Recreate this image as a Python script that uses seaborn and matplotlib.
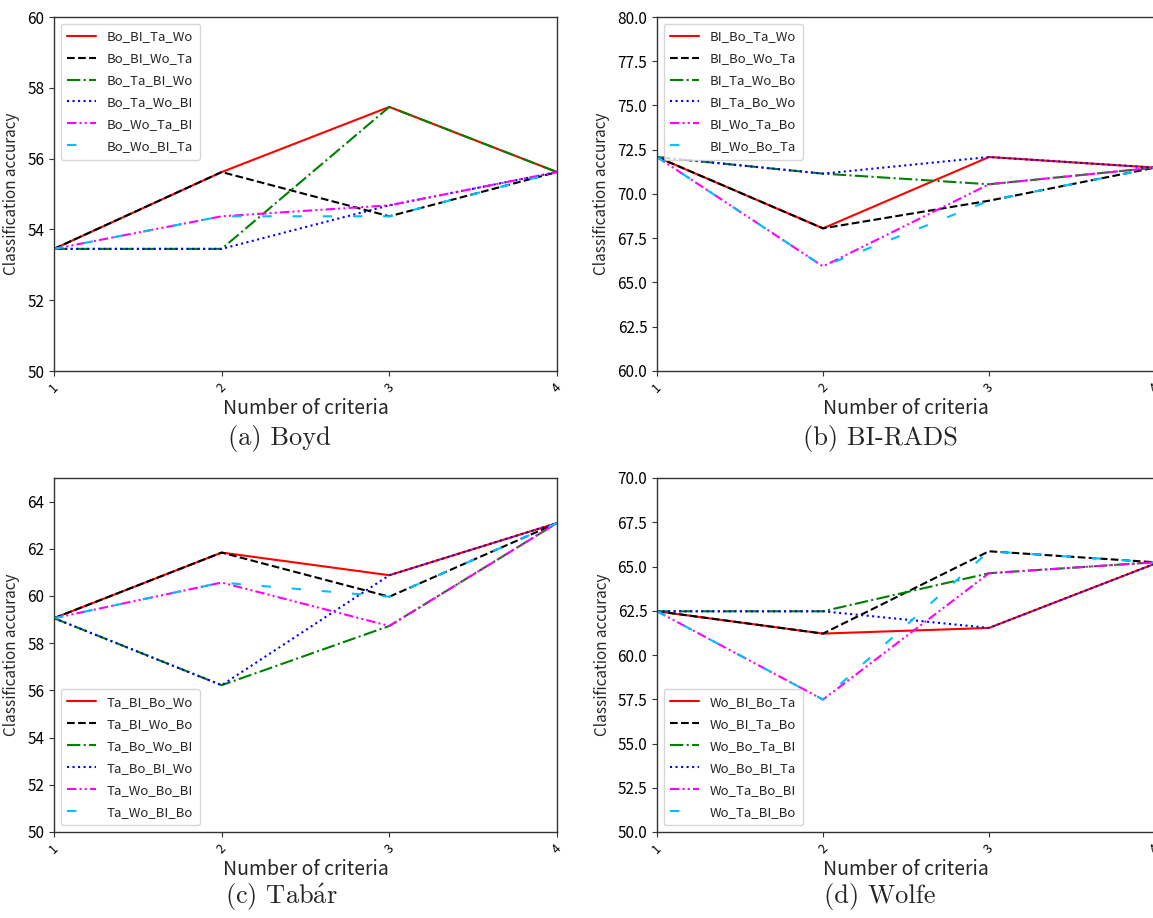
import numpy as np
import pandas as pd
import matplotlib
matplotlib.use("Agg")
import matplotlib.pyplot as plt
import seaborn as sns

criteria = [1, 2, 3, 4]

# (a) Boyd
boyd_names = ["Bo_BI_Ta_Wo", "Bo_BI_Wo_Ta", "Bo_Ta_BI_Wo", "Bo_Ta_Wo_BI", "Bo_Wo_Ta_BI", "Bo_Wo_BI_Ta"]
boyd_vals = [
    [53.45, 55.62, 57.46, 55.62],
    [53.45, 55.62, 54.37, 55.62],
    [53.45, 53.45, 57.46, 55.62],
    [53.45, 53.45, 54.68, 55.62],
    [53.45, 54.37, 54.68, 55.62],
    [53.45, 54.37, 54.37, 55.62],
]

# (b) BI-RADS
birads_names = ["BI_Bo_Ta_Wo", "BI_Bo_Wo_Ta", "BI_Ta_Wo_Bo", "BI_Ta_Bo_Wo", "BI_Wo_Ta_Bo", "BI_Wo_Bo_Ta"]
birads_vals = [
    [72.09, 68.06, 72.09, 71.49],
    [72.09, 68.06, 69.62, 71.49],
    [72.09, 71.15, 70.55, 71.49],
    [72.09, 71.15, 72.09, 71.49],
    [72.09, 65.91, 70.55, 71.49],
    [72.09, 65.91, 69.62, 71.49],
]

# (c) Tabar
tabar_names = ["Ta_BI_Bo_Wo", "Ta_BI_Wo_Bo", "Ta_Bo_Wo_BI", "Ta_Bo_BI_Wo", "Ta_Wo_Bo_BI", "Ta_Wo_BI_Bo"]
tabar_vals = [
    [59.06, 61.84, 60.88, 63.09],
    [59.06, 61.84, 59.97, 63.09],
    [59.06, 56.22, 58.73, 63.09],
    [59.06, 56.22, 60.88, 63.09],
    [59.06, 60.57, 58.73, 63.09],
    [59.06, 60.57, 59.97, 63.09],
]

# (d) Wolfe
wolfe_names = ["Wo_BI_Bo_Ta", "Wo_BI_Ta_Bo", "Wo_Bo_Ta_BI", "Wo_Bo_BI_Ta", "Wo_Ta_Bo_BI", "Wo_Ta_BI_Bo"]
wolfe_vals = [
    [62.47, 61.21, 61.53, 65.16],
    [62.47, 61.21, 65.86, 65.24],
    [62.47, 62.47, 64.62, 65.24],
    [62.47, 62.47, 61.53, 65.16],
    [62.47, 57.48, 64.62, 65.24],
    [62.47, 57.48, 65.86, 65.24],
]

captions = ["(a) Boyd", "(b) BI-RADS", r"(c) Tab$\mathrm{\acute{a}}$r", "(d) Wolfe"]

colors = ["#ff0000", "#000000", "#008000", "#0000ff", "#ff00ff", "#00bfff"]
styles = ["-", "--", "-.", ":", (0, (4.5, 1.5, 1, 1.5, 1, 1.5)), (0, (4.5, 10))]

sns.set_style("ticks")
plt.rcParams["font.family"] = ["Noto Sans CJK SC", "DejaVu Sans"]
plt.rcParams["mathtext.fontset"] = "cm"
plt.rcParams["lines.linewidth"] = 1.5
plt.rcParams["axes.edgecolor"] = "#333333"
plt.rcParams["axes.linewidth"] = 1.0
plt.rcParams["xtick.color"] = "#333333"
plt.rcParams["ytick.color"] = "#333333"
plt.rcParams["xtick.labelcolor"] = "black"
plt.rcParams["ytick.labelcolor"] = "black"

W, H = 1153, 918
fig = plt.figure(figsize=(W / 100, H / 100), dpi=100)

def rect(l, t, r, b):
    return [l / W, 1 - b / H, (r - l) / W, (b - t) / H]

axes_rects = [rect(54, 17, 557, 371), rect(657, 17, 1155, 371),
              rect(54, 478, 557, 832), rect(657, 478, 1155, 832)]
ylims = [(50, 60), (60, 80), (50, 65), (50, 70)]
yticks = [np.arange(50, 60.1, 2), np.arange(60, 80.1, 2.5), np.arange(50, 64.1, 2), np.arange(50, 70.1, 2.5)]
legend_locs = ["upper left", "upper left", "lower left", "lower left"]
all_names = [boyd_names, birads_names, tabar_names, wolfe_names]
all_vals = [boyd_vals, birads_vals, tabar_vals, wolfe_vals]
caption_pos = [(279, 438), (880, 438), (281, 897), (880, 897)]

for i in range(4):
    ax = fig.add_axes(axes_rects[i])
    for name, vals, c, ls in zip(all_names[i], all_vals[i], colors, styles):
        sns.lineplot(x=criteria, y=vals, ax=ax, color=c, linestyle=ls, label=name, linewidth=1.5)
    ax.set_xlim(1, 4)
    ax.set_ylim(*ylims[i])
    ax.set_yticks(yticks[i])
    ax.set_xticks(criteria)
    ax.set_xticklabels([str(c) for c in criteria], rotation=45, fontsize=9)
    ax.tick_params(axis="y", labelsize=11)
    ax.set_xlabel("Number of criteria", fontsize=14, labelpad=2)
    ax.set_ylabel("Classification accuracy", fontsize=11, labelpad=5)
    ax.legend(loc=legend_locs[i], fontsize=9.5, frameon=True, labelspacing=0.68,
              handlelength=2.2, borderpad=0.5)
    cx, cy = caption_pos[i]
    fig.text(cx / W, 1 - cy / H, captions[i], ha="center", va="center",
             fontsize=19, family=["cmr10", "DejaVu Serif"])

fig.savefig("out.png", dpi=100)
